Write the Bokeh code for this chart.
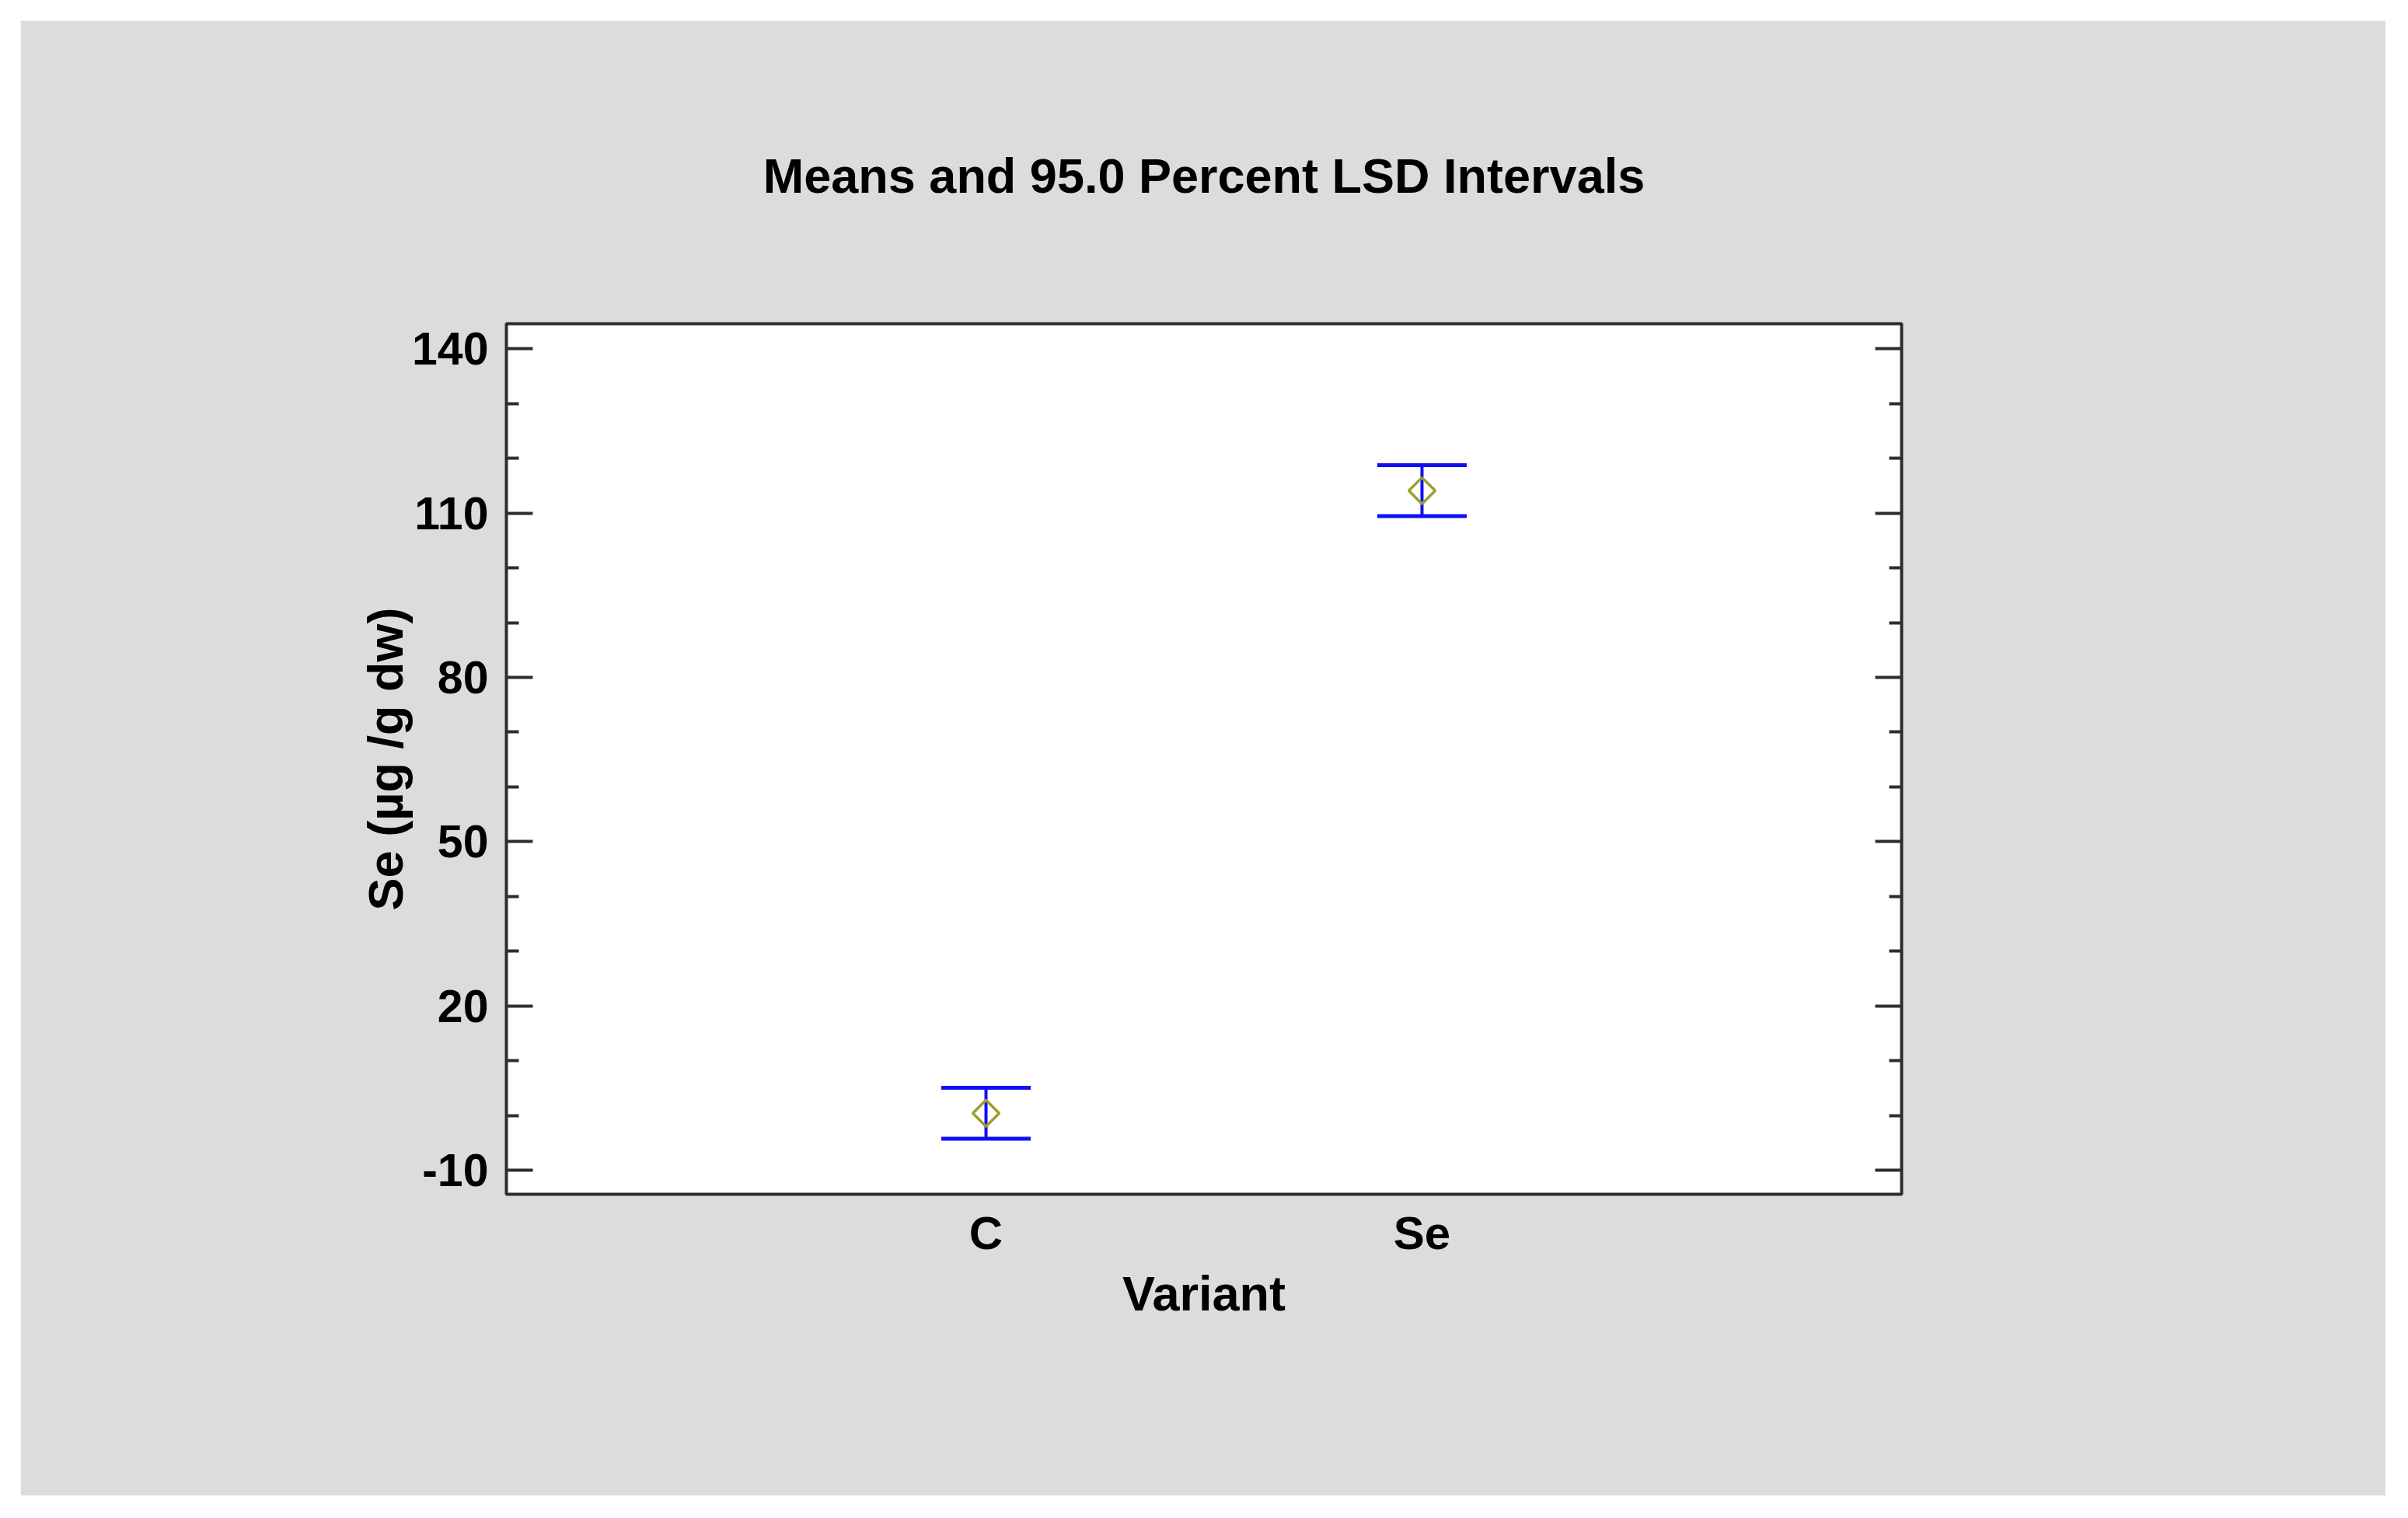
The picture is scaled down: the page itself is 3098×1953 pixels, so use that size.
from math import pi
from bokeh.plotting import figure
from bokeh.models import (ColumnDataSource, FactorRange, Range1d, FixedTicker,
                          LinearAxis, Whisker, TeeHead)
from bokeh.embed import file_html
from bokeh.resources import INLINE

# ---- data ----
variants = ["C", "Se"]
means = [0.4, 114.1]
lsd_half = [4.65, 4.65]
y_ticks = [-10, 20, 50, 80, 110, 140]
y_tick_labels = ["-10", "20", "50", "80", "110", "140"]
y_minor_ticks = [0, 10, 30, 40, 60, 70, 90, 100, 120, 130]

title_text = "Means and 95.0 Percent LSD Intervals"
x_label = "Variant"
y_label = "Se (µg /g dw)"

lower = [m - h for m, h in zip(means, lsd_half)]
upper = [m + h for m, h in zip(means, lsd_half)]
src = ColumnDataSource(dict(variant=variants, mean=means, lower=lower, upper=upper))

FONT = "Liberation Sans"
GREY = "#DCDCDC"
FRAME = "#2E2E2E"
BLUE = "#1010F5"
OLIVE = "#9E9E2E"

p = figure(x_range=FactorRange(factors=variants, range_padding=0.6),
           y_range=Range1d(-14.4, 144.6),
           frame_width=1795, frame_height=1120,
           min_border_left=625, min_border_right=623,
           min_border_top=390, min_border_bottom=388,
           output_backend="svg", toolbar_location=None,
           background_fill_color="white", border_fill_color=GREY,
           title=title_text)
p.margin = (26, 0, 0, 26)

p.title.align = "center"
p.title.text_font = FONT
p.title.text_font_style = "bold"
p.title.text_font_size = "63px"
p.title.text_color = "black"
p.title.standoff = 312

p.grid.visible = False
p.outline_line_color = FRAME
p.outline_line_width = 4

# x axis
xa = p.xaxis[0]
xa.axis_label = x_label
xa.axis_line_color = None
xa.major_tick_line_color = None
xa.minor_tick_line_color = None
xa.major_label_text_font = FONT
xa.major_label_text_font_style = "bold"
xa.major_label_text_font_size = "60px"
xa.major_label_text_color = "black"
xa.major_label_standoff = 10
xa.axis_label_text_font = FONT
xa.axis_label_text_font_style = "bold"
xa.axis_label_text_font_size = "63px"
xa.axis_label_text_color = "black"
xa.axis_label_standoff = 6

# y axis left
ya = p.yaxis[0]
ya.ticker = FixedTicker(ticks=y_ticks, minor_ticks=y_minor_ticks)
ya.major_label_overrides = dict(zip(y_ticks, y_tick_labels))
ya.axis_label = y_label
ya.axis_line_color = None
ya.major_tick_in = 34
ya.major_tick_out = 0
ya.minor_tick_in = 16
ya.minor_tick_out = 0
ya.major_tick_line_color = FRAME
ya.minor_tick_line_color = FRAME
ya.major_tick_line_width = 4
ya.minor_tick_line_width = 4
ya.major_label_text_font = FONT
ya.major_label_text_font_style = "bold"
ya.major_label_text_font_size = "59px"
ya.major_label_text_color = "black"
ya.major_label_standoff = 23
ya.axis_label_text_font = FONT
ya.axis_label_text_font_style = "bold"
ya.axis_label_text_font_size = "63px"
ya.axis_label_text_color = "black"
ya.axis_label_standoff = -4

# y axis right (mirrored ticks, no labels)
ra = LinearAxis(ticker=FixedTicker(ticks=y_ticks, minor_ticks=y_minor_ticks),
                major_label_overrides={t: "" for t in y_ticks},
                axis_line_color=None,
                major_tick_in=34, major_tick_out=0, minor_tick_in=16, minor_tick_out=0,
                major_tick_line_color=FRAME, minor_tick_line_color=FRAME,
                major_tick_line_width=4, minor_tick_line_width=4)
p.add_layout(ra, "right")

# means
p.scatter(x="variant", y="mean", source=src, marker="square", angle=pi / 4,
          size=24, fill_color=None, line_color=OLIVE, line_width=3.5)

# LSD intervals
w = Whisker(base="variant", lower="lower", upper="upper", source=src,
            line_color=BLUE, line_width=4,
            upper_head=TeeHead(size=115, line_color=BLUE, line_width=5),
            lower_head=TeeHead(size=115, line_color=BLUE, line_width=5))
p.add_layout(w)

open("out.html", "w").write(file_html(p, INLINE))
